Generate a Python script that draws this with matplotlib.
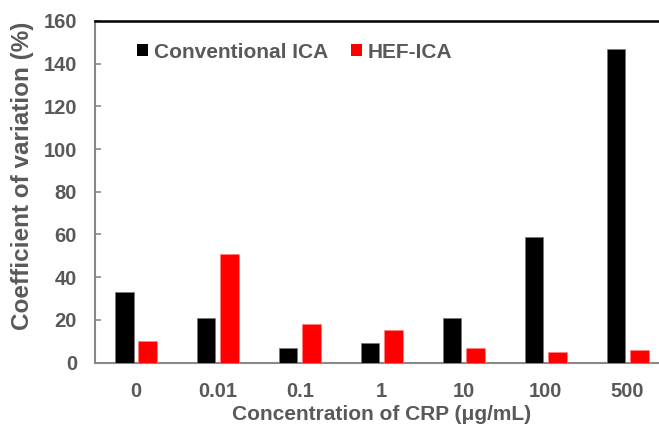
import matplotlib
matplotlib.use("Agg")
import matplotlib.pyplot as plt
import numpy as np
from matplotlib.patches import Patch

categories = ["0", "0.01", "0.1", "1", "10", "100", "500"]
conventional = [33, 21, 7, 9, 21, 58.6, 146.8]
hef = [10, 51, 18, 15, 7, 5, 5.8]
series_names = ["Conventional ICA", "HEF-ICA"]

plt.rcParams['font.family'] = ['Liberation Sans', 'DejaVu Sans']
plt.rcParams['font.weight'] = 'bold'
txt = '#595959'
spine_c = '#898989'

fig = plt.figure(figsize=(6.59, 4.34), dpi=100)
ax = fig.add_axes([95/659, 71.5/434, 573.5/659, 341.5/434])

x = np.arange(len(categories))
w = 0.226
off = 0.143
ax.bar(x - off, conventional, w, color='black', edgecolor='#777777', linewidth=0.5, zorder=3)
ax.bar(x + off, hef, w, color='#ff0000', edgecolor='#ff8080', linewidth=0.5, zorder=3)

ax.set_xlim(-0.5, len(categories) - 0.5)
ax.set_ylim(0, 160)
ax.set_yticks(np.arange(0, 161, 20))
ax.set_xticks(x)
ax.set_xticklabels(categories)

for s in ['right', 'top']:
    ax.spines[s].set_visible(False)
for s in ['left', 'bottom']:
    ax.spines[s].set_color(spine_c)
    ax.spines[s].set_linewidth(1.5)
ax.axhline(160, color='black', linewidth=1.8, zorder=4, clip_on=False)

ax.tick_params(axis='y', direction='in', length=4, width=1.2, color=spine_c,
               labelsize=14.5, labelcolor=txt, pad=13)
ax.tick_params(axis='x', length=0, labelsize=14.5, labelcolor=txt, pad=14)

ax.set_xlabel("Concentration of CRP (μg/mL)", fontsize=15, color=txt, fontweight='bold')
ax.set_ylabel("Coefficient of variation (%)", fontsize=17.5, color=txt, fontweight='bold')
ax.yaxis.set_label_coords((34 - 95) / 573.5, (362.5 - 176) / 341.5)
ax.xaxis.set_label_coords(0.5, -(405 - 362.5) / 341.5)

handles = [Patch(facecolor='black'), Patch(facecolor='#ff0000')]
leg = ax.legend(handles, series_names, loc='center left',
                bbox_to_anchor=((137 - 95) / 573.5, (362.5 - 52) / 341.5),
                ncol=2, frameon=False, fontsize=15, handlelength=0.55, handleheight=0.55,
                handletextpad=0.25, columnspacing=1.1, borderpad=0, borderaxespad=0)
for t in leg.get_texts():
    t.set_color(txt)
    t.set_fontweight('bold')

fig.savefig("out.png", dpi=100)
